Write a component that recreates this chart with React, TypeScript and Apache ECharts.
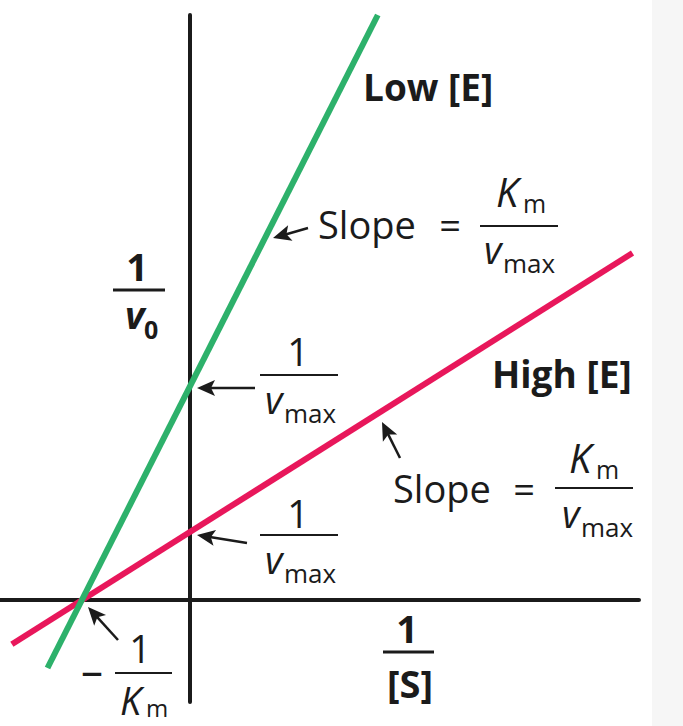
import { useEffect, useRef } from 'react';
import * as echarts from 'echarts';

// Lineweaver-Burk lines (x = 1/[S], y = 1/v0)
const lowX = [-1.32, 1.74];
const lowY = [-1.0, 8.6];
const highX = [-1.65, 4.1];
const highY = [-0.65, 5.1];
const xRange = [-1.76, 4.16];
const yRange = [-1.5, 8.6];
const seriesNames = ['Low [E]', 'High [E]'];

const INK = '#1b1b1b';
const GREEN = '#2db16b';
const RED = '#e8175b';
const FONT = '"Open Sans"';
const MID = 0.379;

type TextOpts = { italic?: boolean; bold?: boolean; align?: string };

const txt = (x: number, baseline: number, str: string, size: number, opts: TextOpts = {}) => {
    const fs = opts.italic ? 'italic' : 'normal';
    const fw = opts.bold ? 'bold' : 'normal';
    const align = opts.align || 'left';
    return {
        type: 'text',
        x,
        y: baseline - MID * size,
        z: 10,
        style: {
            text: str,
            font: `${fs} ${fw} ${size}px ${FONT}`,
            fill: INK,
            align,
            textAlign: align,
            verticalAlign: 'middle',
            textVerticalAlign: 'middle'
        }
    };
};

const bar = (x1: number, x2: number, y: number, w = 2) => ({
    type: 'line',
    z: 10,
    shape: { x1, y1: y, x2, y2: y },
    style: { stroke: INK, lineWidth: w }
});

const arrow = (x1: number, y1: number, x2: number, y2: number) => {
    const len = Math.hypot(x2 - x1, y2 - y1);
    const ux = (x2 - x1) / len;
    const uy = (y2 - y1) / len;
    const hl = 18;
    const hw = 8;
    const bx = x2 - ux * hl;
    const by = y2 - uy * hl;
    return [
        {
            type: 'line',
            z: 10,
            shape: { x1, y1, x2: bx + ux * 5, y2: by + uy * 5 },
            style: { stroke: INK, lineWidth: 2.5 }
        },
        {
            type: 'polygon',
            z: 10,
            shape: {
                points: [
                    [x2, y2],
                    [bx - uy * hw, by + ux * hw],
                    [bx + ux * 4, by + uy * 4],
                    [bx + uy * hw, by - ux * hw]
                ]
            },
            style: { fill: INK }
        }
    ];
};

const vmax = (x: number, baseline: number) => [
    txt(x, baseline, 'v', 38, { italic: true }),
    txt(x + 19, baseline + 10, 'max', 26)
];

const km = (x: number, baseline: number) => [
    txt(x, baseline, 'K', 40, { italic: true }),
    txt(x + 27, baseline + 5, 'm', 25)
];

const App = () => {
    const chartRef = useRef<HTMLDivElement | null>(null);

    useEffect(() => {
        if (!chartRef.current) return;
        const chart = echarts.init(chartRef.current, null, { renderer: 'svg' });
        const graphics: any[] = [
            { type: 'rect', z: 0, shape: { x: 652, y: 0, width: 31, height: 726 }, style: { fill: '#f6f6f6' } },
            // Low [E] labels
            txt(363, 101, seriesNames[0], 37, { bold: true }),
            txt(318, 238, 'Slope', 38),
            txt(450, 238, '=', 38, { align: 'center' }),
            bar(480, 558, 226),
            ...km(496, 207),
            ...vmax(484, 263),
            ...arrow(308, 228, 273, 238),
            // 1/vmax at low [E]
            txt(298, 365, '1', 38, { align: 'center' }),
            bar(260, 338, 375),
            ...vmax(265, 413),
            ...arrow(255, 388, 197, 388),
            // High [E] labels
            txt(492, 388, seriesNames[1], 37, { bold: true }),
            txt(393, 502, 'Slope', 38),
            txt(524, 502, '=', 38, { align: 'center' }),
            bar(555, 633, 488),
            ...km(569, 473),
            ...vmax(562, 527),
            ...arrow(400, 458, 382, 422),
            // 1/vmax at high [E]
            txt(298, 527, '1', 38, { align: 'center' }),
            bar(260, 338, 535),
            ...vmax(265, 573),
            ...arrow(247, 543, 197, 535),
            // axis titles
            txt(137, 280, '1', 38, { bold: true, align: 'center' }),
            bar(113, 165, 290, 3),
            txt(125, 328, 'v', 38, { bold: true, italic: true }),
            txt(144, 338, '0', 25, { bold: true }),
            txt(407, 642, '1', 38, { bold: true, align: 'center' }),
            bar(383, 434, 652, 3),
            txt(410, 697, '[S]', 38, { bold: true, align: 'center' }),
            // -1/Km
            txt(92, 686, '\u2013', 44, { align: 'center' }),
            txt(140, 662, '1', 38, { align: 'center' }),
            bar(115, 172, 673),
            txt(120, 714, 'K', 38, { italic: true }),
            txt(146, 717, 'm', 24),
            ...arrow(118, 640, 88, 607)
        ];
        const hiddenAxis = {
            type: 'value',
            axisTick: { show: false },
            axisLabel: { show: false },
            splitLine: { show: false },
            axisLine: { show: true, onZero: true, lineStyle: { color: INK, width: 4 } }
        };
        const option = {
            animation: false,
            backgroundColor: '#ffffff',
            grid: { left: 0, right: 44, top: 15, bottom: 24, containLabel: false },
            xAxis: { ...hiddenAxis, min: xRange[0], max: xRange[1] },
            yAxis: { ...hiddenAxis, min: yRange[0], max: yRange[1] },
            graphic: graphics,
            series: [
                {
                    name: seriesNames[1],
                    type: 'line',
                    data: highX.map((x, i) => [x, highY[i]]),
                    symbol: 'none',
                    clip: false,
                    silent: true,
                    z: 3,
                    lineStyle: { color: RED, width: 6 }
                },
                {
                    name: seriesNames[0],
                    type: 'line',
                    data: lowX.map((x, i) => [x, lowY[i]]),
                    symbol: 'none',
                    clip: false,
                    silent: true,
                    z: 4,
                    lineStyle: { color: GREEN, width: 6 }
                }
            ]
        };
        chart.setOption(option);
        return () => chart.dispose();
    }, []);

    return <div ref={chartRef} style={{ position: 'fixed', left: 0, top: 0, width: 683, height: 726, background: '#fff' }} />;
};

export default App;
